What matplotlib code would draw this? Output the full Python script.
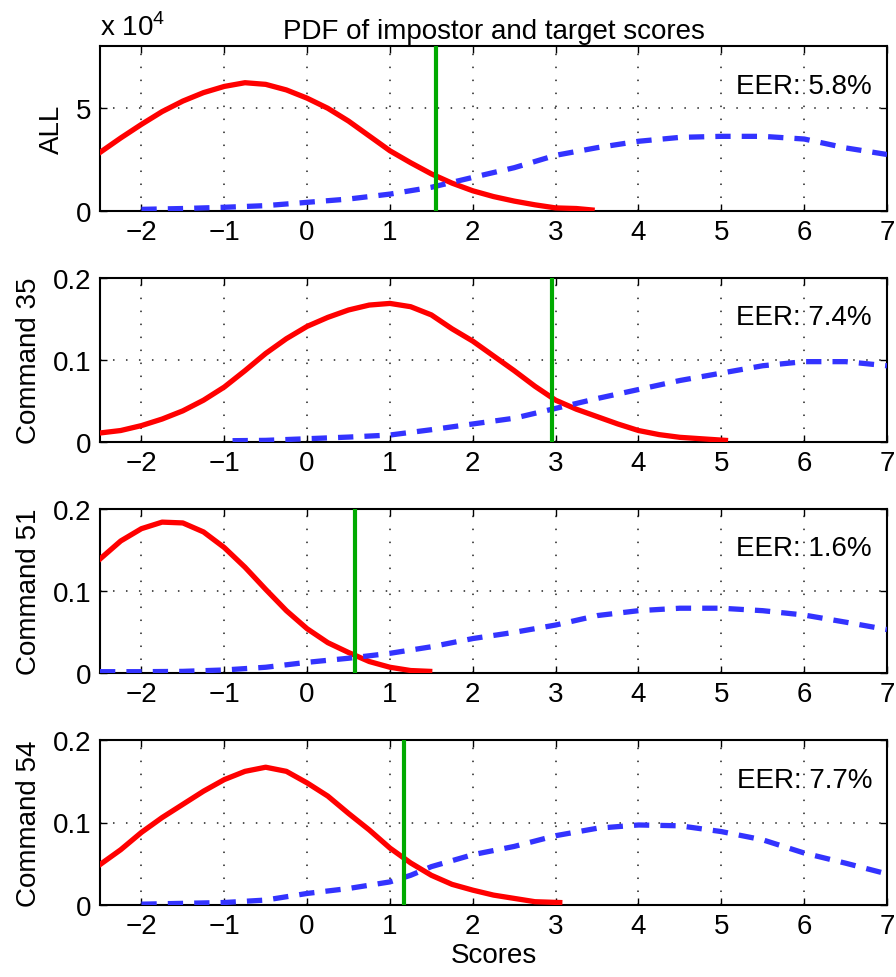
import matplotlib
matplotlib.use("Agg")
import matplotlib.pyplot as plt

plt.rcParams['font.family'] = ['Liberation Sans', 'DejaVu Sans']
plt.rcParams['mathtext.fontset'] = 'custom'
plt.rcParams['mathtext.rm'] = 'Liberation Sans'
plt.rcParams['axes.unicode_minus'] = True

'''
PDF of impostor (red) and target (blue dashed) scores,
with the EER threshold as a green vertical line.
'''

panel_names = ['ALL', 'Command 35', 'Command 51', 'Command 54']
eer_labels = ['EER: 5.8%', 'EER: 7.4%', 'EER: 1.6%', 'EER: 7.7%']
thresholds = [1.55, 2.96, 0.58, 1.17]
y_limits = [8.0, 0.2, 0.2, 0.2]
y_ticks = [[0, 5], [0, 0.1, 0.2], [0, 0.1, 0.2], [0, 0.1, 0.2]]
y_ticklabels = [['0', '5'], ['0', '0.1', '0.2'], ['0', '0.1', '0.2'], ['0', '0.1', '0.2']]
x_ticks = [-2, -1, 0, 1, 2, 3, 4, 5, 6, 7]

# ALL panel values are in units of 1e4
imp_x_all = [-2.5, -2.25, -2, -1.75, -1.5, -1.25, -1, -0.75, -0.5, -0.25, 0, 0.25, 0.5,
             0.75, 1, 1.25, 1.5, 1.75, 2, 2.25, 2.5, 2.75, 3, 3.25, 3.44]
imp_y_all = [2.84, 3.54, 4.2, 4.82, 5.33, 5.74, 6.04, 6.22, 6.14, 5.87, 5.47, 4.98, 4.36,
             3.64, 2.92, 2.34, 1.8, 1.35, 0.98, 0.7, 0.48, 0.3, 0.15, 0.12, 0.05]
tgt_x_all = [-2, -1.5, -1, -0.5, 0, 0.5, 1, 1.5, 2, 2.5, 3, 3.5, 4, 4.5, 5, 5.5, 6, 6.5, 7]
tgt_y_all = [0.08, 0.12, 0.18, 0.26, 0.42, 0.58, 0.82, 1.15, 1.63, 2.1, 2.7, 3.07, 3.38,
             3.57, 3.62, 3.62, 3.49, 3.06, 2.74]

imp_x_35 = [-2.5, -2.25, -2, -1.75, -1.5, -1.25, -1, -0.75, -0.5, -0.25, 0, 0.25, 0.5,
            0.75, 1, 1.25, 1.5, 1.75, 2, 2.25, 2.5, 2.75, 3, 3.25, 3.5, 3.75, 4, 4.25,
            4.5, 4.75, 5.05]
imp_y_35 = [0.011, 0.014, 0.020, 0.028, 0.038, 0.051, 0.067, 0.087, 0.108, 0.126, 0.141,
            0.152, 0.161, 0.167, 0.169, 0.165, 0.155, 0.138, 0.123, 0.105, 0.087, 0.068,
            0.051, 0.040, 0.031, 0.022, 0.014, 0.009, 0.0057, 0.004, 0.002]
tgt_x_35 = [-0.9, -0.5, 0, 0.5, 1, 1.5, 2, 2.5, 3, 3.5, 4, 4.5, 5, 5.5, 6, 6.5, 7]
tgt_y_35 = [0.0016, 0.002, 0.004, 0.006, 0.0085, 0.015, 0.022, 0.029, 0.041, 0.053, 0.064,
            0.075, 0.084, 0.093, 0.098, 0.098, 0.093]

imp_x_51 = [-2.5, -2.25, -2, -1.75, -1.5, -1.25, -1, -0.75, -0.5, -0.25, 0, 0.25, 0.5,
            0.75, 1, 1.25, 1.48]
imp_y_51 = [0.139, 0.161, 0.176, 0.184, 0.183, 0.172, 0.153, 0.129, 0.102, 0.076, 0.054,
            0.037, 0.025, 0.014, 0.007, 0.003, 0.002]
tgt_x_51 = [-2.5, -2, -1.5, -1, -0.5, 0, 0.5, 1, 1.5, 2, 2.5, 3, 3.5, 4, 4.5, 5, 5.5, 6, 6.5, 7]
tgt_y_51 = [0.0016, 0.0016, 0.002, 0.0037, 0.007, 0.013, 0.018, 0.024, 0.032, 0.042, 0.0496,
            0.0585, 0.070, 0.076, 0.079, 0.079, 0.076, 0.0707, 0.062, 0.053]

imp_x_54 = [-2.5, -2.25, -2, -1.75, -1.5, -1.25, -1, -0.75, -0.5, -0.25, 0, 0.25, 0.5,
            0.75, 1, 1.25, 1.5, 1.75, 2, 2.25, 2.5, 2.75, 3.05]
imp_y_54 = [0.049, 0.067, 0.088, 0.106, 0.122, 0.138, 0.152, 0.162, 0.167, 0.162, 0.148,
            0.132, 0.111, 0.091, 0.069, 0.051, 0.036, 0.025, 0.018, 0.012, 0.008, 0.004, 0.003]
tgt_x_54 = [-2, -1.5, -1, -0.5, 0, 0.5, 1, 1.25, 1.5, 2, 2.5, 3, 3.5, 4, 4.5, 5, 5.5, 6, 6.5, 7]
tgt_y_54 = [0.001, 0.002, 0.003, 0.006, 0.014, 0.020, 0.028, 0.036, 0.0465, 0.061, 0.071,
            0.084, 0.093, 0.097, 0.096, 0.089, 0.079, 0.063, 0.0507, 0.0377]

impostor = [(imp_x_all, imp_y_all), (imp_x_35, imp_y_35), (imp_x_51, imp_y_51), (imp_x_54, imp_y_54)]
target = [(tgt_x_all, tgt_y_all), (tgt_x_35, tgt_y_35), (tgt_x_51, tgt_y_51), (tgt_x_54, tgt_y_54)]

W, H = 896, 978
fig = plt.figure(figsize=(W / 100, H / 100), dpi=100)

# pixel boxes (top, bottom) of each panel
boxes = [(47, 212), (279, 443), (510, 674), (741, 906)]
left_px, right_px = 100, 887
fs = 20

for i in range(4):
    top, bot = boxes[i]
    ax = fig.add_axes([left_px / W, 1 - bot / H, (right_px - left_px) / W, (bot - top) / H])

    ix, iy = impostor[i]
    tx, ty = target[i]
    ax.plot(ix, iy, color='#ff0000', lw=3.8, solid_joinstyle='round', zorder=3)
    ax.plot(tx, ty, color='#3333ff', lw=3.8, dashes=(2.9, 2.1), zorder=3)
    ax.axvline(thresholds[i], color='#00aa00', lw=3.0, zorder=4)

    ax.set_xlim(-2.5, 7)
    ax.set_ylim(0, y_limits[i])
    ax.set_xticks(x_ticks)
    ax.set_yticks(y_ticks[i])
    ax.set_yticklabels(y_ticklabels[i])
    ax.grid(True, color='#222222', lw=1.1, linestyle=(0, (1, 7.5)))
    ax.tick_params(direction='in', length=5, width=1.0, top=True, right=True,
                   labelsize=fs, pad=6)
    for s in ax.spines.values():
        s.set_linewidth(1.5)
    ax.set_ylabel(panel_names[i], fontsize=fs, labelpad=8)
    ax.text(0.981, 0.76, eer_labels[i], transform=ax.transAxes, ha='right',
            va='center', fontsize=fs)

    if i == 0:
        ax.set_title('PDF of impostor and target scores', fontsize=fs, pad=6)
        ax.text(0.0, 1.03, r'x 10$^{4}$', transform=ax.transAxes, ha='left',
                va='bottom', fontsize=fs)
    if i == 3:
        ax.set_xlabel('Scores', fontsize=fs, labelpad=2)

fig.savefig('out.png', dpi=100)
